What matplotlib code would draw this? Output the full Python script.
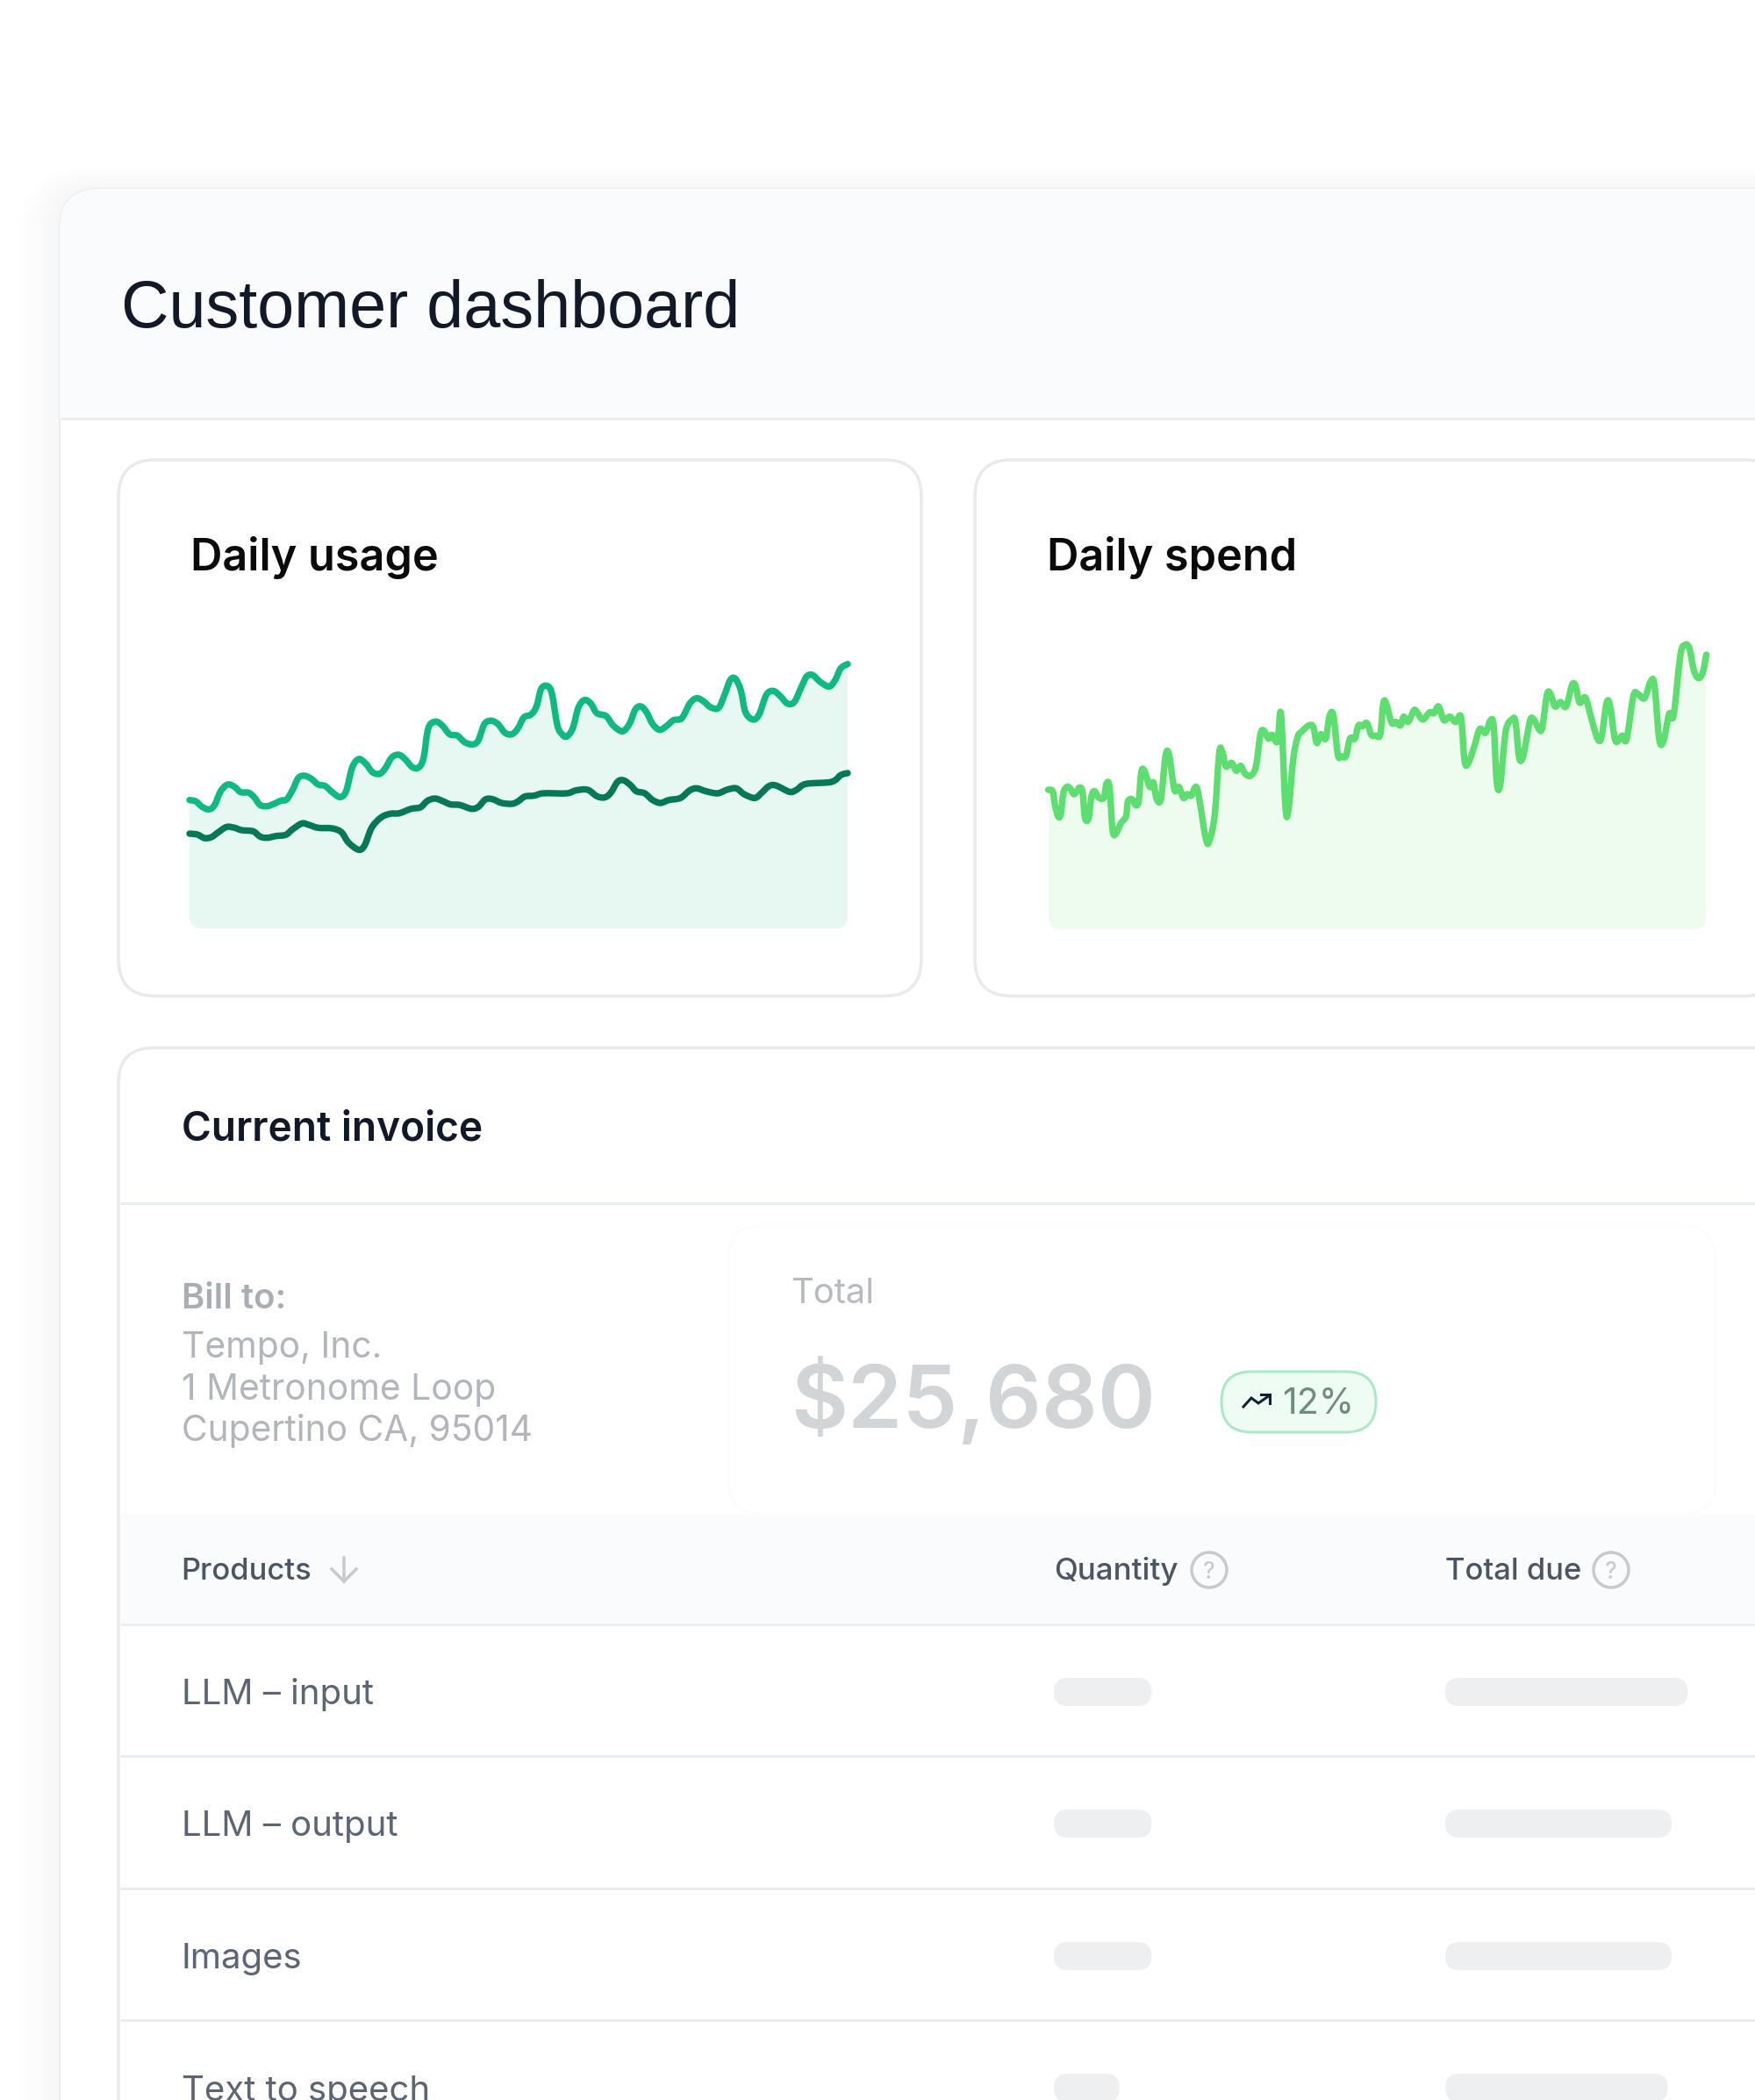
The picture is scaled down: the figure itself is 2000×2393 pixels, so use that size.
import matplotlib
matplotlib.use("Agg")
import matplotlib.pyplot as plt
import numpy as np
from matplotlib.patches import FancyBboxPatch, PathPatch, Circle, Rectangle
from matplotlib.path import Path

W, H = 2000, 2393
plt.rcParams['font.family'] = ['Inter', 'Noto Sans', 'DejaVu Sans']

# ---- data (arbitrary time units on x, reading on y) ----
usage_x = [68,82,95,110,122,135,150,165,178,195,207,220,235,250,265,277,290,302,315,330,345,360,375,392,405,418,432,447,462,478,490,503,518,532,548,562,572,582,597,612,628,645,660,678,690,703,717,732,747,762,775,788,803,815,825,838,848,860,870,880,893,905,918,932,945,965,980,1000,1015,1028,1040,1052,1065,1080,1095,1110,1128,1145,1160,1175,1190,1207,1220,1232,1243,1255,1265,1282,1295,1310,1325,1340,1355,1370,1385,1397,1410,1425,1445,1458,1470,1485]
usage_y = [440,435,417,408,423,470,493,485,467,465,450,423,419,427,438,442,475,515,523,513,493,488,467,450,470,550,580,565,535,530,550,585,595,580,552,552,585,685,708,695,665,660,638,630,645,700,711,700,670,665,685,723,732,760,820,830,805,695,665,657,685,755,782,770,737,727,695,675,700,750,760,740,700,680,693,713,720,770,788,777,757,755,800,850,855,815,740,715,735,800,813,795,770,775,825,863,867,845,828,850,890,905]
second_x = [68,85,100,115,130,148,165,180,205,220,235,255,275,290,310,325,345,375,395,410,432,445,460,480,500,520,545,565,580,597,615,630,650,675,690,705,720,740,762,775,790,810,830,880,900,925,945,962,975,990,1003,1018,1030,1048,1065,1082,1100,1125,1145,1160,1180,1205,1225,1245,1262,1285,1300,1315,1330,1360,1375,1395,1450,1470,1485]
second_y = [325,322,310,313,330,348,345,337,333,315,311,317,321,340,360,355,345,343,330,295,270,285,345,380,393,395,410,415,437,445,435,425,423,410,417,442,443,430,427,435,452,455,463,463,473,475,453,449,465,503,507,490,470,463,440,430,440,447,473,480,470,463,475,480,460,447,465,487,490,468,475,495,502,525,532]
spend_x = [48,58,63,70,76,82,90,97,106,118,125,130,138,145,152,160,172,178,185,192,200,210,222,226,235,243,250,256,263,275,283,290,300,310,318,330,340,350,358,368,376,383,400,408,420,430,437,445,458,468,478,488,500,512,522,530,540,548,560,568,578,585,595,605,615,630,640,648,657,668,676,685,695,703,713,722,733,741,750,760,770,780,790,796,802,815,825,835,842,852,865,872,885,900,910,920,932,945,958,970,978,986,1000,1012,1025,1035,1043,1050,1058,1070,1085,1092,1100,1108,1116,1125,1133,1145,1152,1162,1170,1180,1192,1205,1218,1226,1235,1248,1262,1275,1284,1295,1303,1315,1330,1340,1355,1365,1380,1393,1402,1413,1423,1435,1445,1460,1470,1480,1490,1500,1510,1518]
spend_y = [477,472,427,387,392,467,487,482,462,485,467,382,379,457,472,452,449,497,487,337,329,362,387,437,445,425,437,537,542,487,502,447,447,592,597,477,487,449,462,457,485,467,312,302,392,602,607,557,569,542,559,532,525,557,667,679,652,665,642,737,417,412,577,657,677,697,692,637,667,652,727,732,597,592,592,652,652,697,695,705,665,662,667,767,777,707,709,697,727,710,749,742,717,742,739,762,715,727,709,725,577,567,627,685,672,712,697,502,497,677,719,707,587,587,647,717,717,682,692,802,805,762,777,762,835,832,775,792,717,652,657,772,765,645,662,650,797,805,790,845,837,649,647,737,732,937,972,962,887,859,877,939]

chart_titles = ["Daily usage", "Daily spend"]
bill_lines = ["Tempo, Inc.", "1 Metronome Loop", "Cupertino CA, 95014"]
products = ["LLM – input", "LLM – output", "Images", "Text to speech"]
quantity_skeleton = [73, 73, 73, 49]
due_skeleton = [181, 169, 169, 166]

# ---- colours ----
INK = '#111827'
C_USAGE, C_SECOND, C_USAGE_FILL = '#10B981', '#047857', '#E7F8F2'
C_SPEND, C_SPEND_FILL = '#5EDE70', '#EEFCF0'
C_LINE = '#E9ECEE'
C_ICON = '#C8CACD'

fig = plt.figure(figsize=(20, 23.93), dpi=100, facecolor='white')
ui = fig.add_axes([0, 0, 1, 1], zorder=0)
ui.set_xlim(0, W); ui.set_ylim(H, 0); ui.axis('off')


def fs(px):
    return px * 0.72


def rrect(x0, y0, x1, y1, r, fc='none', ec='none', lw=0, z=1, alpha=None, ax=ui):
    p = FancyBboxPatch((x0 + r, y0 + r), x1 - x0 - 2 * r, y1 - y0 - 2 * r,
                       boxstyle=f"round,pad={r},rounding_size={r}", fc=fc, ec=ec,
                       lw=lw * 0.72, zorder=z, alpha=alpha, clip_on=True)
    ax.add_patch(p)
    return p


def txt(x, y, s, px, color, weight='normal', va='baseline', ha='left', z=5, family=None):
    t = ui.text(x, y, s, fontsize=fs(px), color=color, fontweight=weight, va=va, ha=ha, zorder=z)
    if family:
        t.set_family(family)
    return t


def hline(y, x0, x1, color=C_LINE, lw=2.5, z=3):
    ui.plot([x0, x1], [y, y], color=color, lw=lw * 0.72, solid_capstyle='butt', zorder=z)


# ---- outer shell ----
for i in range(1, 9):
    rrect(68 - i * 6, 215 - i * 3, 2100, 2600, 45 + i * 4, fc='#64748B', alpha=.0022, z=0.5)
shell = rrect(68, 215, 2100, 2600, 45, fc='white', ec='#E9EDF0', lw=2, z=1)
header = Rectangle((68, 215), 2040, 262, fc='#F9FBFC', ec='none', zorder=1.1)
ui.add_patch(header)
header.set_clip_path(shell)
hline(477, 69, 2000, '#E9ECEF', 3)
txt(138, 373, "Customer dashboard", 75.5, INK, family=['Liberation Sans', 'DejaVu Sans'])

# ---- chart cards ----
rrect(135, 524, 1050, 1135, 42, fc='white', ec='#E8EAEC', lw=3.5, z=2)
rrect(1111, 524, 2030, 1135, 42, fc='white', ec='#E8EAEC', lw=3.5, z=2)
txt(217, 650, chart_titles[0], 50.4, '#0A0A0A', 'semibold')
txt(1193, 650, chart_titles[1], 50.4, '#0A0A0A', 'semibold')


def smooth_path(x, y):
    """Cubic curve running through every reading (Catmull-Rom handles)."""
    p = np.column_stack([x, y]).astype(float)
    q = np.vstack([p[0], p, p[-1]])
    verts, codes = [p[0]], [Path.MOVETO]
    for i in range(1, len(q) - 2):
        verts += [q[i] + (q[i + 1] - q[i - 1]) / 6, q[i + 1] - (q[i + 2] - q[i]) / 6, q[i + 1]]
        codes += [Path.CURVE4] * 3
    return np.array(verts), codes


def chart(rect_px, xlim, ytop, fills, lines):
    x0, y0, x1, y1 = rect_px
    ax = fig.add_axes([x0 / W, 1 - y1 / H, (x1 - x0) / W, (y1 - y0) / H], zorder=2)
    ax.set_xlim(*xlim); ax.set_ylim(0, ytop); ax.axis('off'); ax.patch.set_alpha(0)
    clip = FancyBboxPatch((x0 + 15, y0 - 85), x1 - x0 - 30, y1 - y0 + 70,
                          boxstyle="round,pad=15,rounding_size=15", transform=ui.transData)
    for (x, y, c) in fills:
        v, k = smooth_path(x, y)
        v2 = np.vstack([v, [x[-1], 0], [x[0], 0], v[0]])
        area = PathPatch(Path(v2, k + [Path.LINETO, Path.LINETO, Path.CLOSEPOLY]), fc=c, ec='none', zorder=1)
        ax.add_patch(area)
        area.set_clip_path(clip)
    for (x, y, c) in lines:
        v, k = smooth_path(x, y)
        ax.add_patch(PathPatch(Path(v, k), fc='none', ec=c, lw=7.4 * 0.72, capstyle='round',
                               joinstyle='round', zorder=2, clip_on=False))


chart((216, 680, 966, 1058.3), (68, 1485), 1135,
      [(usage_x, usage_y, C_USAGE_FILL)],
      [(usage_x, usage_y, C_USAGE), (second_x, second_y, C_SECOND)])
chart((1194.5, 680, 1944.5, 1059), (48, 1518), 1137,
      [(spend_x, spend_y, C_SPEND_FILL)],
      [(spend_x, spend_y, C_SPEND)])

# ---- invoice card ----
rrect(135, 1194, 2100, 2600, 40, fc='white', ec='#E8EAEC', lw=3.5, z=2)
txt(207, 1300, "Current invoice", 46, INK, 'semibold')
hline(1371, 137, 2000, '#E9ECEE', 3)
txt(207, 1491, "Bill to:", 40, '#A9ADB4', 'semibold')
for y, s in zip([1547, 1595, 1642], bill_lines):
    txt(207, y, s, 40.7, '#B2B6BC')
rrect(830, 1396, 1955, 1726, 40, fc='white', ec='#FBFCFC', lw=3, z=2.5)
txt(901, 1485, "Total", 40, '#B7BABF')
txt(901, 1627, "$25,680", 100, '#D1D5D8', 'semibold')
rrect(1392, 1563, 1568, 1632, 34, fc='#EEFCF4', ec='#A9E9C6', lw=3, z=3)
txt(1461, 1611, "12%", 41, '#6F8C80')
ui.plot([1417, 1426, 1434, 1447], [1603, 1593, 1599, 1590], color='#10222F', lw=3 * 0.72, zorder=5,
        solid_joinstyle='miter')
ui.plot([1437, 1447, 1447], [1589, 1589, 1599], color='#10222F', lw=3 * 0.72, zorder=5,
        solid_joinstyle='miter')

# ---- table ----
ui.add_patch(Rectangle((137, 1726), 1870, 125, fc='#F9FBFC', ec='none', zorder=2.4))
hline(1851, 137, 2000, '#ECEEF0', 3)
HEAD = '#4B5563'
txt(206, 1800, "Products", 34.5, HEAD, 'medium')
ui.plot([392, 392], [1775, 1802], color=C_ICON, lw=3.5 * 0.72, zorder=5)
ui.plot([378, 392, 406], [1788, 1802, 1788], color=C_ICON, lw=3.5 * 0.72, zorder=5)
txt(1201, 1800, "Quantity", 35, HEAD, 'medium')
txt(1647, 1800, "Total due", 34.5, HEAD, 'medium')
for cx in (1378, 1836):
    ui.add_patch(Circle((cx, 1789), 20, fc='none', ec=C_ICON, lw=3.5 * 0.72, zorder=5))
    txt(cx, 1789, "?", 26, C_ICON, 'medium', va='center_baseline', ha='center')

rows_y = [1928, 2078, 2229, 2379]
rows_base = [1942, 2092, 2243, 2393.5]
for y in [2001, 2151.5, 2302]:
    hline(y, 137, 2000, '#E9ECEE', 3)
for y, b, name, q, d in zip(rows_y, rows_base, products, quantity_skeleton, due_skeleton):
    txt(207, b, name, 40.2, '#5B6573')
    rrect(1201, y - 16, 1201 + q * 1.527, y + 16, 16, fc='#EEEFF0', z=3)
    rrect(1647, y - 16, 1647 + d * 1.527, y + 16, 16, fc='#EEEFF0', z=3)

fig.savefig('out.png', dpi=100, facecolor='white')
